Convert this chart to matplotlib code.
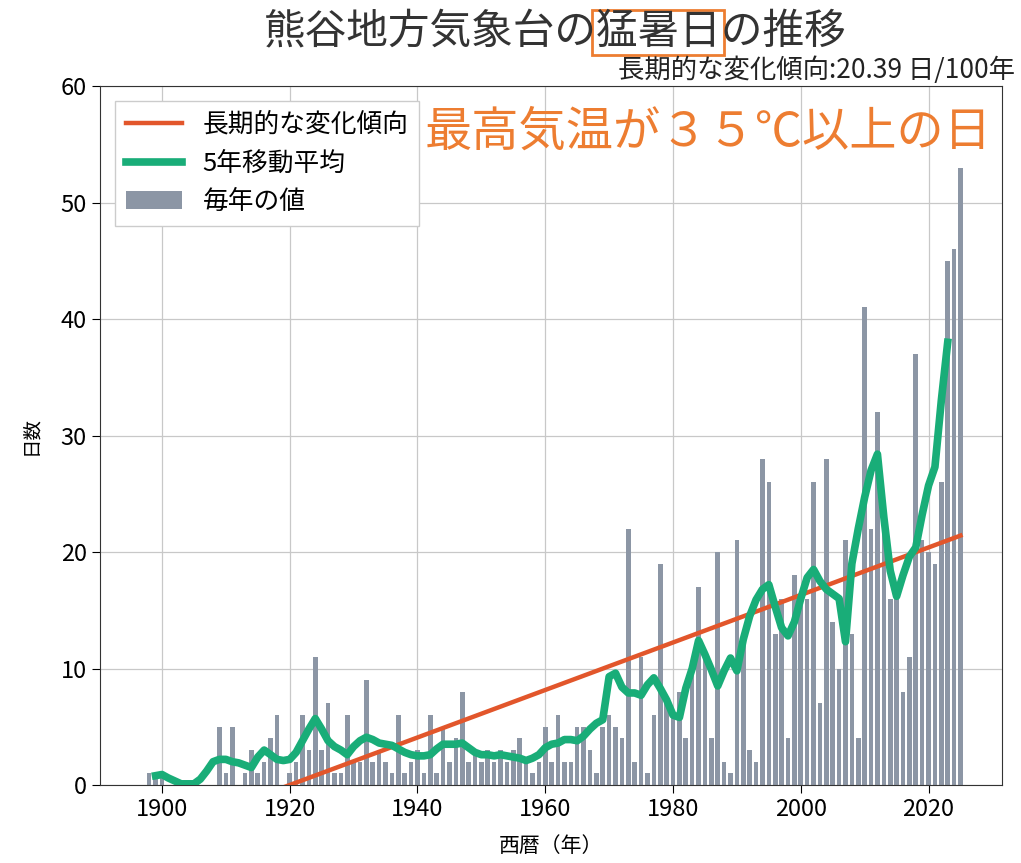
import numpy as np
import matplotlib
matplotlib.use('Agg')
import matplotlib.pyplot as plt
from matplotlib.patches import Rectangle

plt.rcParams['font.family'] = ['Noto Sans CJK JP', 'DejaVu Sans']

# yearly count of days with max temp >= 35C
years = list(range(1897, 2026))
days = [0, 1, 1, 1, 0, 0, 0, 0, 0, 0,          # 1897-1906
        0, 0, 5, 1, 5, 0, 1, 3, 1, 2,          # 1907-1916
        4, 6, 0, 1, 2, 6, 3, 11, 3, 7,         # 1917-1926
        1, 1, 6, 2, 2, 9, 2, 3, 2, 1,          # 1927-1936
        6, 1, 2, 3, 1, 6, 1, 5, 2, 4,          # 1937-1946
        8, 2, 3, 2, 3, 2, 3, 2, 3, 4,          # 1947-1956
        2, 1, 2, 5, 2, 6, 2, 2, 5, 5,          # 1957-1966
        3, 1, 5, 6, 5, 4, 22, 2, 11, 1,        # 1967-1976
        6, 19, 7, 6, 8, 4, 10, 17, 11, 4,      # 1977-1986
        20, 2, 1, 21, 12, 3, 2, 28, 26, 13,    # 1987-1996
        16, 4, 18, 16, 16, 26, 7, 28, 14, 10,  # 1997-2006
        21, 13, 4, 41, 22, 32, 22, 16, 17, 8,  # 2007-2016
        11, 37, 21, 20, 19, 26, 45, 46, 53]    # 2017-2025

# 5-year moving average as drawn (centred, 1899-2023)
ma_years = list(range(1899, 2024))
ma_days = [0.8, 0.9, 0.6, 0.35, 0.1, 0.1, 0.1, 0.5, 1.2, 2.0,      # 1899-1908
           2.2, 2.2, 2.0, 1.9, 1.7, 1.5, 2.4, 3.0, 2.6, 2.2,       # 1909-1918
           2.1, 2.2, 2.8, 3.8, 4.8, 5.7, 4.8, 3.8, 3.3, 3.0,       # 1919-1928
           2.6, 3.3, 3.8, 4.1, 3.9, 3.6, 3.5, 3.4, 3.1, 2.8,       # 1929-1938
           2.6, 2.5, 2.5, 2.6, 3.1, 3.5, 3.5, 3.5, 3.6, 3.2,       # 1939-1948
           2.8, 2.6, 2.6, 2.5, 2.6, 2.5, 2.4, 2.3, 2.1, 2.3,       # 1949-1958
           2.6, 3.2, 3.5, 3.6, 3.9, 3.9, 3.8, 4.2, 4.8, 5.3,       # 1959-1968
           5.6, 9.3, 9.6, 8.4, 7.9, 7.9, 7.7, 8.6, 9.2, 8.3,       # 1969-1978
           7.3, 6.0, 5.8, 8.3, 10.0, 12.4, 11.2, 9.9, 8.5, 9.8,    # 1979-1988
           10.9, 9.8, 12.5, 14.5, 15.9, 16.8, 17.2, 15.3, 13.5, 12.8,  # 1989-1998
           14.0, 16.0, 17.8, 18.5, 17.5, 16.8, 16.4, 16.0, 12.3, 19.0,  # 1999-2008
           22.0, 24.7, 27.0, 28.4, 23.0, 18.4, 16.2, 18.0, 19.6, 20.4,  # 2009-2018
           23.2, 25.7, 27.3, 33.0, 38.0]                                # 2019-2023

trend_per_100y = 20.39
trend_zero_year = 1920

xticks = [1900, 1920, 1940, 1960, 1980, 2000, 2020]
yticks = [0, 10, 20, 30, 40, 50, 60]

W, H = 1021, 863
fig = plt.figure(figsize=(W / 100, H / 100), dpi=100)
ax = fig.add_axes([100 / W, 78 / H, 902 / W, 699 / H])

ax.bar(years, days, width=0.72, color='#8c96a5', label='毎年の値', zorder=2)
yr = np.array(years)
trend = trend_per_100y / 100 * (yr - trend_zero_year)
ax.plot(yr, trend, color='#e2562b', lw=3.2, label='長期的な変化傾向', zorder=3)
ax.plot(ma_years, ma_days, color='#19ad78', lw=5.5, label='5年移動平均', zorder=4)

ax.set_xlim(1890.3, 2031.5)
ax.set_ylim(0, 60)
ax.set_xticks(xticks)
ax.set_yticks(yticks)
ax.tick_params(labelsize=17, length=6, direction='out')
ax.set_axisbelow(True)
ax.grid(True, color='#c8c8c8', lw=0.9)
for s in ax.spines.values():
    s.set_color('#333333')

ax.set_xlabel('西暦（年）', fontsize=15, labelpad=10)
ax.set_ylabel('日数', fontsize=14, labelpad=14)

h, l = ax.get_legend_handles_labels()
order = [l.index('長期的な変化傾向'), l.index('5年移動平均'), l.index('毎年の値')]
ax.legend([h[i] for i in order], [l[i] for i in order], loc='upper left',
          fontsize=18.5, handlelength=2.2, framealpha=1, edgecolor='#cccccc',
          fancybox=False, borderaxespad=0.6)

ax.text(0.36, 0.934, '最高気温が３５℃以上の日', transform=ax.transAxes,
        fontsize=34, color='#ed7d31', va='center', ha='left')

title = fig.text(555 / W, 1 - 33 / H, '熊谷地方気象台の猛暑日の推移',
                 fontsize=30, color='#333333', ha='center', va='center')
fig.text(1015 / W, 1 - 70 / H, '長期的な変化傾向:%.2f 日/100年' % trend_per_100y,
         fontsize=19, color='#222222', ha='right', va='center')

# orange box around the 猛暑日 part of the title
fig.canvas.draw()
bb = title.get_window_extent()
cw = bb.width / 14
x0 = bb.x0 + 8 * cw - 5
x1 = bb.x0 + 11 * cw + 2
y0 = bb.y0 - 2
y1 = bb.y1 + 2
fig.add_artist(Rectangle((x0 / W, y0 / H), (x1 - x0) / W, (y1 - y0) / H,
                         transform=fig.transFigure, fill=False,
                         edgecolor='#ed7d31', lw=2))

fig.savefig('out.png', dpi=100)
